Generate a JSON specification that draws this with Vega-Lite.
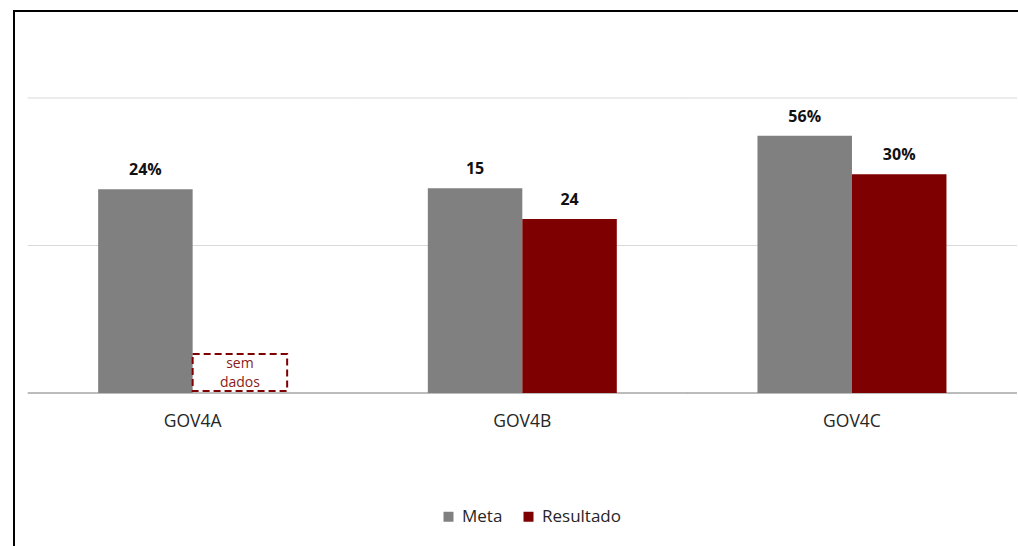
{
  "$schema": "https://vega.github.io/schema/vega-lite/v6.json",
  "width": 1008,
  "height": 539,
  "autosize": {"type": "none"},
  "padding": {"left": 14, "top": 11, "right": -4, "bottom": -4},
  "background": "white",
  "config": {"view": {"stroke": "black", "strokeWidth": 2}, "font": "Open Sans"},
  "data": {
    "values": [
      {"indicador": "GOV4A", "serie": "Meta", "valor": 1.381, "rotulo": "24%"},
      {"indicador": "GOV4A", "serie": "Resultado", "valor": null, "rotulo": null, "nota": "sem dados"},
      {"indicador": "GOV4B", "serie": "Meta", "valor": 1.388, "rotulo": "15"},
      {"indicador": "GOV4B", "serie": "Resultado", "valor": 1.18, "rotulo": "24"},
      {"indicador": "GOV4C", "serie": "Meta", "valor": 1.744, "rotulo": "56%"},
      {"indicador": "GOV4C", "serie": "Resultado", "valor": 1.483, "rotulo": "30%"}
    ]
  },
  "layer": [
    {
      "transform": [{"filter": "datum.serie == 'Meta'"}],
      "mark": {"type": "tick", "orient": "horizontal", "color": "#d9d9d9", "size": 330, "thickness": 1, "opacity": 1},
      "encoding": {
        "x": {
          "field": "indicador", "type": "nominal",
          "scale": {"type": "band", "domain": ["GOV4A", "GOV4B", "GOV4C"], "paddingInner": 0.4267, "paddingOuter": 0.2422, "align": 0.527},
          "axis": null
        },
        "y": {"datum": 1, "type": "quantitative", "scale": {"domain": [-1.0644, 2.5898], "nice": false, "zero": false}, "axis": null}
      }
    },
    {
      "transform": [{"filter": "datum.serie == 'Meta'"}],
      "mark": {"type": "tick", "orient": "horizontal", "color": "#d9d9d9", "size": 330, "thickness": 1, "opacity": 1},
      "encoding": {
        "x": {"field": "indicador", "type": "nominal"},
        "y": {"datum": 2, "type": "quantitative"}
      }
    },
    {
      "transform": [{"filter": "datum.serie == 'Meta'"}],
      "mark": {"type": "tick", "orient": "horizontal", "color": "#a6a6a6", "size": 330, "thickness": 1.5, "opacity": 1},
      "encoding": {
        "x": {"field": "indicador", "type": "nominal"},
        "y": {"datum": 0, "type": "quantitative"}
      }
    },
    {
      "transform": [{"filter": "datum.valor != null"}],
      "mark": {"type": "bar"},
      "encoding": {
        "x": {"field": "indicador", "type": "nominal"},
        "xOffset": {"field": "serie", "type": "nominal", "scale": {"domain": ["Meta", "Resultado"], "paddingInner": 0, "paddingOuter": 0}},
        "y": {"field": "valor", "type": "quantitative", "stack": null},
        "color": {
          "field": "serie", "type": "nominal",
          "scale": {"domain": ["Meta", "Resultado"], "range": ["#808080", "#7f0000"]},
          "legend": {
            "orient": "none", "legendX": 426, "legendY": 497, "direction": "horizontal",
            "title": null, "symbolType": "square", "symbolSize": 100, "symbolStrokeWidth": 0,
            "labelFontSize": 17, "labelFont": "Open Sans", "labelColor": "#262626",
            "columnPadding": 17, "labelOffset": 5
          }
        }
      }
    },
    {
      "transform": [{"filter": "datum.valor != null"}],
      "mark": {"type": "text", "fontWeight": "bold", "fontSize": 16, "color": "#111111", "baseline": "alphabetic", "dy": -14},
      "encoding": {
        "x": {"field": "indicador", "type": "nominal"},
        "xOffset": {"field": "serie", "type": "nominal"},
        "y": {"field": "valor", "type": "quantitative", "stack": null},
        "text": {"field": "rotulo"}
      }
    },
    {
      "transform": [{"filter": "datum.nota != null"}],
      "mark": {"type": "bar", "fill": "white", "fillOpacity": 0, "stroke": "#7f0000", "strokeWidth": 2, "strokeDash": [7, 4]},
      "encoding": {
        "x": {"field": "indicador", "type": "nominal"},
        "xOffset": {"field": "serie", "type": "nominal"},
        "y": {"datum": 0.264, "type": "quantitative"},
        "y2": {"datum": 0.0136}
      }
    },
    {
      "transform": [{"filter": "datum.nota != null"}],
      "mark": {"type": "text", "fontSize": 14, "color": "#8b1a1a", "baseline": "alphabetic", "lineBreak": " ", "lineHeight": 19},
      "encoding": {
        "x": {"field": "indicador", "type": "nominal"},
        "xOffset": {"field": "serie", "type": "nominal"},
        "y": {"datum": 0.1675, "type": "quantitative"},
        "text": {"field": "nota"}
      }
    },
    {
      "transform": [{"filter": "datum.serie == 'Meta'"}],
      "mark": {"type": "text", "fontSize": 17.5, "color": "#262626", "baseline": "alphabetic"},
      "encoding": {
        "x": {"field": "indicador", "type": "nominal"},
        "y": {"datum": -0.2325, "type": "quantitative"},
        "text": {"field": "indicador"}
      }
    }
  ]
}
